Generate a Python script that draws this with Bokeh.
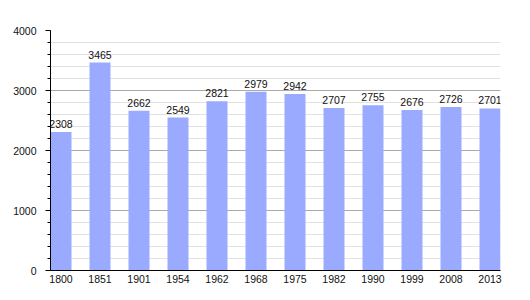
from bokeh.plotting import figure
from bokeh.models import Range1d, SingleIntervalTicker, FixedTicker, ColumnDataSource
from bokeh.core.properties import value
from bokeh.embed import file_html
from bokeh.resources import INLINE

years = ["1800", "1851", "1901", "1954", "1962", "1968", "1975", "1982", "1990", "1999", "2008", "2013"]
population = [2308, 3465, 2662, 2549, 2821, 2979, 2942, 2707, 2755, 2676, 2726, 2701]
y_ticks_interval = 1000

xs = list(range(len(years)))
bar_w = 21 / 39
src = ColumnDataSource(dict(x=xs, top=population, lab=[str(v) for v in population]))

p = figure(width=530, height=300, output_backend="svg", toolbar_location=None,
           x_range=Range1d(-bar_w / 2, len(years) - 1 + bar_w / 2),
           y_range=Range1d(0, 4000),
           min_border_left=50, min_border_right=30, min_border_top=30, min_border_bottom=30)
p.outline_line_color = None
p.background_fill_color = "white"
p.border_fill_color = "white"

p.vbar(x="x", top="top", width=bar_w, bottom=0, source=src, color="#99aaff", line_color=None)
p.text(x="x", y="top", text="lab", source=src, text_align="center", text_baseline="bottom",
       y_offset=-4, text_font=value("Liberation Sans"), text_font_size="10.5px", text_color="#111111")

# y axis
p.yaxis.ticker = SingleIntervalTicker(interval=y_ticks_interval, num_minor_ticks=5)
p.yaxis.axis_line_color = "black"
p.yaxis.major_tick_in = 0
p.yaxis.major_tick_out = 5
p.yaxis.minor_tick_in = 0
p.yaxis.minor_tick_out = 3
p.yaxis.major_tick_line_color = "black"
p.yaxis.minor_tick_line_color = "black"
p.yaxis.major_label_text_font = "Liberation Sans"
p.yaxis.major_label_text_font_size = "10.5px"
p.yaxis.major_label_text_color = "#111111"
p.yaxis.major_label_standoff = 9

# x axis
p.xaxis.ticker = FixedTicker(ticks=xs)
p.xaxis.major_label_overrides = {i: y for i, y in enumerate(years)}
p.xaxis.axis_line_color = "black"
p.xaxis.major_tick_in = 0
p.xaxis.major_tick_out = 0
p.xaxis.minor_tick_line_color = None
p.xaxis.major_label_text_font = "Liberation Sans"
p.xaxis.major_label_text_font_size = "10.5px"
p.xaxis.major_label_text_color = "#111111"
p.xaxis.major_label_standoff = 4

p.xgrid.grid_line_color = None
p.ygrid.grid_line_color = "#aaaaaa"
p.ygrid.minor_grid_line_color = "#e2e2e2"

open("out.html", "w").write(file_html(p, INLINE))
